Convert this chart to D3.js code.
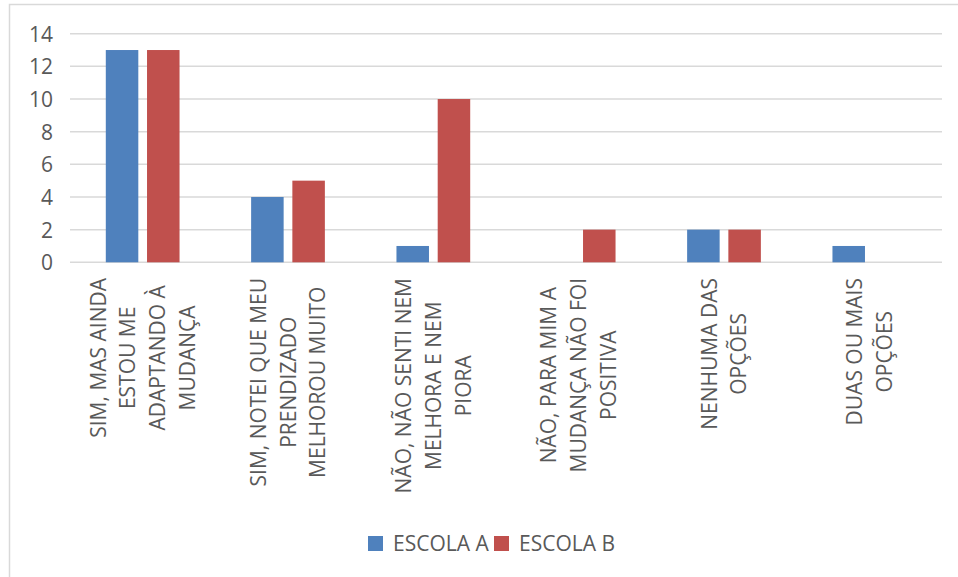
<!DOCTYPE html>
<html>
<head>
<meta charset="utf-8">
<script src="https://cdn.jsdelivr.net/npm/d3@7"></script>
<style>
  html, body { margin: 0; padding: 0; background: #fff; }
  svg { display: block; }
  text { font-family: "Open Sans", "Noto Sans", sans-serif; fill: #595959; }
</style>
</head>
<body>
<svg id="chart" width="958" height="577"></svg>
<script>
const categories = [
  ["SIM, MAS AINDA", "ESTOU ME", "ADAPTANDO À", "MUDANÇA"],
  ["SIM, NOTEI QUE MEU", "PRENDIZADO", "MELHOROU MUITO"],
  ["NÃO, NÃO SENTI NEM", "MELHORA E NEM", "PIORA"],
  ["NÃO, PARA MIM A", "MUDANÇA NÃO FOI", "POSITIVA"],
  ["NENHUMA DAS", "OPÇÕES"],
  ["DUAS OU MAIS", "OPÇÕES"]
];
const seriesNames = ["ESCOLA A", "ESCOLA B"];
const escolaA = [13, 4, 1, 0, 2, 1];
const escolaB = [13, 5, 10, 2, 2, 0];
const yTicks = [0, 2, 4, 6, 8, 10, 12, 14];
const colors = ["#4F81BD", "#C0504D"];

const svg = d3.select("#chart");
const plot = { left: 70, right: 942, top: 33.7, bottom: 262.3 };

// outer chart border (cropped on right/bottom)
svg.append("rect")
  .attr("x", 9.5).attr("y", 4.5)
  .attr("width", 1000).attr("height", 700)
  .attr("fill", "none").attr("stroke", "#D9D9D9").attr("stroke-width", 1.5);

const x = d3.scaleBand()
  .domain(d3.range(categories.length))
  .range([plot.left, plot.right])
  .paddingInner(0).paddingOuter(0);

const y = d3.scaleLinear().domain([0, 14]).range([plot.bottom, plot.top]);

// gridlines
svg.append("g").selectAll("line")
  .data(yTicks)
  .join("line")
  .attr("x1", plot.left).attr("x2", plot.right)
  .attr("y1", d => y(d)).attr("y2", d => y(d))
  .attr("stroke", "#D9D9D9").attr("stroke-width", 1.5);

// y axis labels
const yAxis = d3.axisLeft(y).tickValues(yTicks).tickSize(0).tickPadding(0);
const yg = svg.append("g").attr("transform", `translate(${plot.left - 17},0)`).call(yAxis);
yg.select(".domain").remove();
yg.selectAll("text")
  .attr("font-size", 21).attr("fill", "#595959")
  .attr("font-family", "'Open Sans', 'Noto Sans', sans-serif")
  .attr("dy", "0.36em");

// bars
const step = x.bandwidth();
const barW = step * 0.2237;
const gap = step * 0.06;
const groupOffset = (step - (2 * barW + gap)) / 2;
const sub = d3.scaleOrdinal().domain([0, 1]).range([groupOffset, groupOffset + barW + gap]);

const data = [];
categories.forEach((c, i) => {
  data.push({ i, s: 0, v: escolaA[i] });
  data.push({ i, s: 1, v: escolaB[i] });
});

svg.append("g").selectAll("rect")
  .data(data.filter(d => d.v > 0))
  .join("rect")
  .attr("x", d => x(d.i) + sub(d.s))
  .attr("y", d => y(d.v))
  .attr("width", barW)
  .attr("height", d => y(0) - y(d.v))
  .attr("fill", d => colors[d.s]);

// category labels, rotated -90
const lineH = 29.7;
const labelTop = 278;
const lg = svg.append("g");
categories.forEach((lines, i) => {
  const cx = x(i) + step / 2;
  const g = lg.append("g");
  const texts = lines.map((l, k) => g.append("text")
    .attr("font-size", 21)
    .attr("text-anchor", "middle")
    .text(l));
  const maxLen = d3.max(texts, t => t.node().getComputedTextLength());
  const centerY = labelTop + maxLen / 2;
  const n = lines.length;
  texts.forEach((t, k) => {
    const colX = cx + (k - (n - 1) / 2) * lineH;
    // rotated: baseline direction upward; shift so glyph centered on colX
    t.attr("transform", `translate(${colX + 7.5},${centerY}) rotate(-90)`);
  });
});

// legend
const legend = svg.append("g");
const legItems = [
  { name: seriesNames[0], color: colors[0], x: 368 },
  { name: seriesNames[1], color: colors[1], x: 494 }
];
legItems.forEach(d => {
  legend.append("rect").attr("x", d.x).attr("y", 536).attr("width", 15).attr("height", 15).attr("fill", d.color);
  legend.append("text").attr("x", d.x + 25).attr("y", 551).attr("font-size", 21).text(d.name);
});
</script>
</body>
</html>
